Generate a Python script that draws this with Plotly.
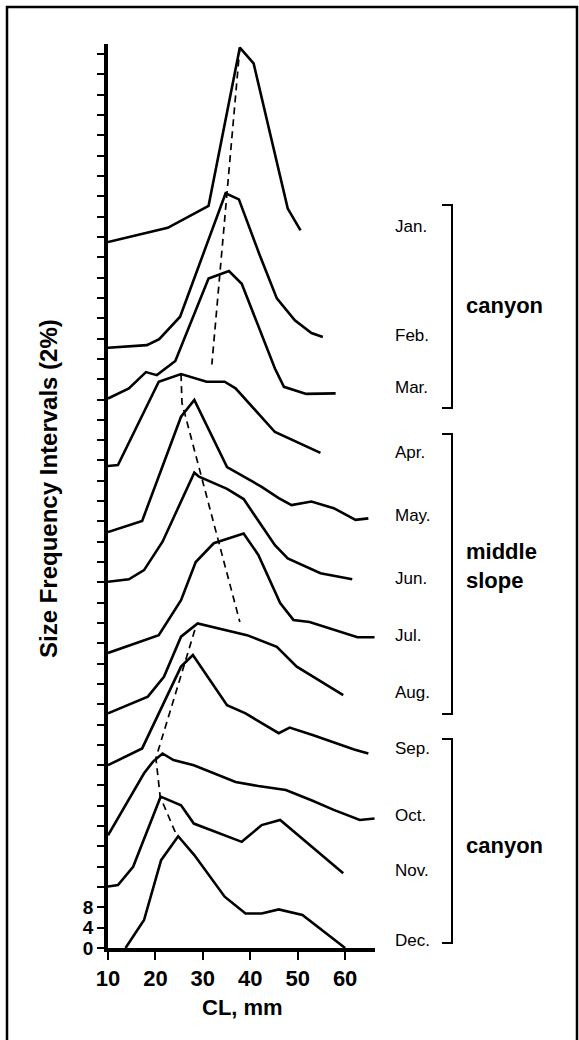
import plotly.graph_objects as go

# ---------------- data (CL in mm, stacked frequency level in axis units) ----------------
months = ["Jan.", "Feb.", "Mar.", "Apr.", "May.", "Jun.", "Jul.", "Aug.", "Sep.", "Oct.", "Nov.", "Dec."]

jan_x = [10.0, 22.6, 31.2, 37.8, 40.7, 47.9, 50.6]
jan_y = [139.0, 141.8, 146.1, 177.3, 174.2, 145.6, 141.3]

feb_x = [10.0, 18.2, 20.8, 25.2, 34.8, 37.6, 42.0, 45.6, 49.4, 52.9, 55.3]
feb_y = [118.2, 118.7, 119.9, 124.3, 148.6, 147.4, 136.4, 127.9, 123.6, 121.1, 120.3]

mar_x = [10.0, 14.4, 18.0, 20.3, 24.2, 31.2, 35.5, 38.2, 45.2, 47.1, 51.8, 58.0]
mar_y = [108.2, 110.2, 113.4, 112.8, 115.6, 131.8, 133.3, 130.8, 114.1, 110.5, 109.1, 109.2]

apr_x = [10.0, 12.1, 20.7, 25.4, 30.8, 34.6, 36.9, 45.2, 54.8]
apr_y = [94.9, 95.1, 111.5, 113.0, 111.5, 111.5, 110.2, 101.6, 97.5]

may_x = [10.0, 17.2, 25.4, 28.2, 35.1, 42.4, 46.0, 48.7, 52.9, 57.6, 62.2, 64.9]
may_y = [81.9, 84.1, 104.6, 107.9, 94.7, 90.8, 88.6, 87.2, 87.9, 86.6, 84.3, 84.6]

jun_x = [10.0, 14.4, 17.6, 21.5, 28.2, 29.2, 35.1, 38.6, 45.2, 47.9, 54.8, 61.5]
jun_y = [72.1, 72.6, 74.4, 80.0, 93.6, 92.8, 90.4, 88.4, 79.3, 76.7, 73.8, 72.6]

jul_x = [10.0, 20.7, 25.4, 28.5, 32.3, 38.6, 41.7, 46.3, 49.1, 52.5, 62.6, 66.2]
jul_y = [58.1, 61.6, 68.5, 76.0, 79.7, 81.6, 77.4, 67.9, 64.6, 64.2, 61.2, 61.2]

aug_x = [10.0, 18.4, 21.8, 25.4, 28.9, 39.3, 45.6, 49.8, 59.6]
aug_y = [46.2, 49.5, 53.4, 61.3, 63.9, 61.6, 59.3, 55.4, 49.8]

sep_x = [10.0, 17.2, 25.4, 27.9, 35.1, 39.0, 46.0, 48.3, 53.3, 61.9, 64.9]
sep_y = [36.0, 39.3, 55.4, 57.7, 47.8, 46.2, 42.3, 43.4, 41.9, 39.1, 38.3]

oct_x = [10.0, 17.6, 19.5, 21.5, 23.8, 28.1, 36.9, 41.7, 47.5, 52.9, 57.6, 63.1, 66.2]
oct_y = [22.2, 34.4, 36.7, 38.3, 37.0, 36.0, 32.7, 31.9, 31.1, 29.1, 27.2, 25.2, 25.5]

nov_x = [10.0, 12.1, 15.3, 21.1, 25.4, 28.1, 38.2, 42.4, 46.3, 59.6]
nov_y = [12.1, 12.4, 16.0, 29.8, 28.1, 24.5, 20.9, 24.2, 25.2, 14.7]

dec_x = [13.7, 17.6, 21.2, 24.8, 28.2, 34.6, 39.0, 42.4, 46.0, 51.0, 60.0]
dec_y = [0.0, 5.5, 17.3, 22.0, 18.3, 10.1, 6.8, 6.8, 7.6, 6.5, 0.0]

# dashed trend lines through the modes
trend1_x = [37.8, 31.9]
trend1_y = [177.3, 114.9]
trend2_x = [25.4, 25.6, 37.8]
trend2_y = [113.0, 107.3, 64.2]
trend3_x = [28.3, 20.1, 21.0, 24.6]
trend3_y = [62.6, 37.4, 29.8, 21.9]

x_ticks = [10, 20, 30, 40, 50, 60]
y_tick_step = 4
y_labels = {0: "0", 4: "4", 8: "8"}

groups = [("canyon", 0, 2), ("middle<br>slope", 3, 7), ("canyon", 8, 11)]

series_x = [jan_x, feb_x, mar_x, apr_x, may_x, jun_x, jul_x, aug_x, sep_x, oct_x, nov_x, dec_x]
series_y = [jan_y, feb_y, mar_y, apr_y, may_y, jun_y, jul_y, aug_y, sep_y, oct_y, nov_y, dec_y]

# ---------------- layout geometry (pixels) ----------------
W, H = 579, 1040
ML, MR, MT, MB = 108, 204, 44, 92
PW, PH = W - ML - MR, H - MT - MB
XR = [10, 66.3]
YR = [0, 178]


def px(xp):
    return (xp - ML) / PW


def py(yp):
    return (H - MB - yp) / PH


fig = go.Figure()
for xs, ys in zip(series_x, series_y):
    fig.add_trace(go.Scatter(x=xs, y=ys, mode="lines",
                             line=dict(color="black", width=2.6),
                             showlegend=False, hoverinfo="skip"))
for xs, ys in [(trend1_x, trend1_y), (trend2_x, trend2_y), (trend3_x, trend3_y)]:
    fig.add_trace(go.Scatter(x=xs, y=ys, mode="lines",
                             line=dict(color="black", width=1.7, dash="7px,5px"),
                             showlegend=False, hoverinfo="skip"))

ytv = list(range(0, 177, y_tick_step))
ytt = [y_labels.get(v, "") for v in ytv]

fig.update_layout(
    width=W, height=H,
    margin=dict(l=ML, r=MR, t=MT, b=MB, pad=0),
    paper_bgcolor="white", plot_bgcolor="white",
    font=dict(family="Liberation Sans, Arial, sans-serif", color="black"),
    xaxis=dict(range=XR, showgrid=False, zeroline=False, showline=True,
               linecolor="black", linewidth=4, ticks="outside", ticklen=8,
               tickwidth=2, tickcolor="black", tickvals=x_ticks,
               ticktext=["<b>%d</b>" % v for v in x_ticks],
               tickfont=dict(size=22, family="Liberation Sans, Arial", color="black")),
    yaxis=dict(range=YR, showgrid=False, zeroline=False, showline=True,
               linecolor="black", linewidth=3.5, ticks="outside", ticklen=7,
               tickwidth=2, tickcolor="black", tickvals=ytv,
               ticktext=["<b>%s</b>" % t if t else "" for t in ytt],
               tickfont=dict(size=19, family="Liberation Sans, Arial", color="black")),
)

ann = []
# axis titles
ann.append(dict(x=px(242), y=py(1007), xref="paper", yref="paper", showarrow=False,
                text="<b>CL, mm</b>", font=dict(size=22), xanchor="center", yanchor="middle"))
ann.append(dict(x=px(48), y=py(489), xref="paper", yref="paper", showarrow=False,
                text="<b>Size Frequency Intervals (2%)</b>", textangle=-90,
                font=dict(size=24), xanchor="center", yanchor="middle"))

# month labels
label_y = [226, 335, 387, 452, 515, 578, 635, 692, 748, 815, 870, 940]
for m, ly in zip(months, label_y):
    ann.append(dict(x=px(393), y=py(ly), xref="paper", yref="paper", showarrow=False,
                    text=m, font=dict(size=17), xanchor="left", yanchor="middle"))

# brackets and group labels
brackets = [(205, 408, 305), (434, 714, 566), (739, 943, 845)]
shapes = []
for (top, bot, mid), (gname, a, b) in zip(brackets, groups):
    path = "M %f,%f L %f,%f L %f,%f L %f,%f" % (px(442), py(top), px(452), py(top),
                                                px(452), py(bot), px(442), py(bot))
    shapes.append(dict(type="path", xref="paper", yref="paper", path=path,
                       line=dict(color="black", width=2)))
    ann.append(dict(x=px(464), y=py(mid), xref="paper", yref="paper", showarrow=False,
                    text="<b>%s</b>" % gname, font=dict(size=22), xanchor="left",
                    yanchor="middle", align="left"))

# outer frame (left, top, right)
frame = "M %f,%f L %f,%f L %f,%f L %f,%f" % (px(7), py(1040), px(7), py(7),
                                             px(577), py(7), px(577), py(1040))
shapes.append(dict(type="path", xref="paper", yref="paper", path=frame,
                   line=dict(color="black", width=2.5)))

fig.update_layout(annotations=ann, shapes=shapes)
fig.write_html("out.html")
